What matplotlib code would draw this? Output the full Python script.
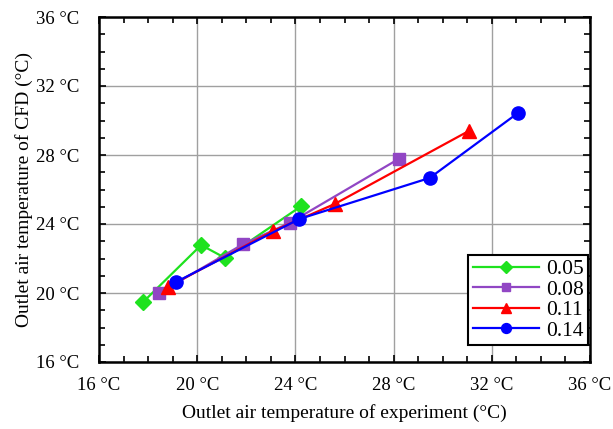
import matplotlib
matplotlib.use("Agg")
import matplotlib.pyplot as plt
from matplotlib.ticker import MultipleLocator, FuncFormatter

plt.rcParams['font.family'] = ['Liberation Serif', 'DejaVu Serif']

# Data (experiment vs CFD outlet temperature)
series_labels = ['0.05', '0.08', '0.11', '0.14']
x_005 = [17.8, 20.16, 21.14, 24.24]
y_005 = [19.48, 22.78, 22.03, 25.04]
x_008 = [18.45, 21.88, 23.76, 28.23]
y_008 = [20.0, 22.84, 24.06, 27.79]
x_011 = [18.8, 23.1, 25.6, 31.06]
y_011 = [20.35, 23.6, 25.16, 29.39]
x_014 = [19.14, 24.16, 29.47, 33.06]
y_014 = [20.64, 24.29, 26.67, 30.43]

colors = ['#1ee21e', '#9146c4', '#ff0000', '#0000ff']
markers = ['D', 's', '^', 'o']
msizes = [8, 8.5, 9.5, 9.5]

fig = plt.figure(figsize=(6.13, 4.29), dpi=100)
ax = fig.add_axes([99 / 613, 1 - 362 / 429, 491 / 613, 345 / 429])

xs = [x_005, x_008, x_011, x_014]
ys = [y_005, y_008, y_011, y_014]
for x, y, c, m, ms, lab in zip(xs, ys, colors, markers, msizes, series_labels):
    ax.plot(x, y, color=c, marker=m, markersize=ms, linewidth=1.6,
            label=lab, zorder=3)

ax.set_xlim(16, 36)
ax.set_ylim(16, 36)
ax.xaxis.set_major_locator(MultipleLocator(4))
ax.yaxis.set_major_locator(MultipleLocator(4))
ax.xaxis.set_minor_locator(MultipleLocator(1))
ax.yaxis.set_minor_locator(MultipleLocator(1))
fmt = FuncFormatter(lambda v, p: f"{v:.0f} \u00b0C")
ax.xaxis.set_major_formatter(fmt)
ax.yaxis.set_major_formatter(fmt)
ax.grid(True, which='major', color='#a0a0a0', linewidth=1.0)
ax.set_axisbelow(True)

ax.tick_params(which='both', direction='in', top=True, right=True,
               labelsize=13.5, width=1.2)
ax.tick_params(which='major', length=5)
ax.tick_params(axis='y', which='major', pad=14)
ax.tick_params(axis='x', which='major', pad=11)
ax.tick_params(which='minor', length=4)
for s in ax.spines.values():
    s.set_linewidth(1.8)

ax.set_xlabel('Outlet air temperature of experiment (\u00b0C)', fontsize=14,
              labelpad=7)
ax.set_ylabel('Outlet air temperature of CFD (\u00b0C)', fontsize=14,
              labelpad=2)

leg = ax.legend(loc='lower right', bbox_to_anchor=(0.996, 0.049),
                borderaxespad=0, fancybox=False, edgecolor='black',
                framealpha=1, fontsize=15.5, markerscale=0.75,
                handlelength=3.1, labelspacing=0.02, borderpad=0.2,
                handletextpad=0.3)
leg.get_frame().set_linewidth(1.5)

fig.savefig('out.png', dpi=100, facecolor='white')
